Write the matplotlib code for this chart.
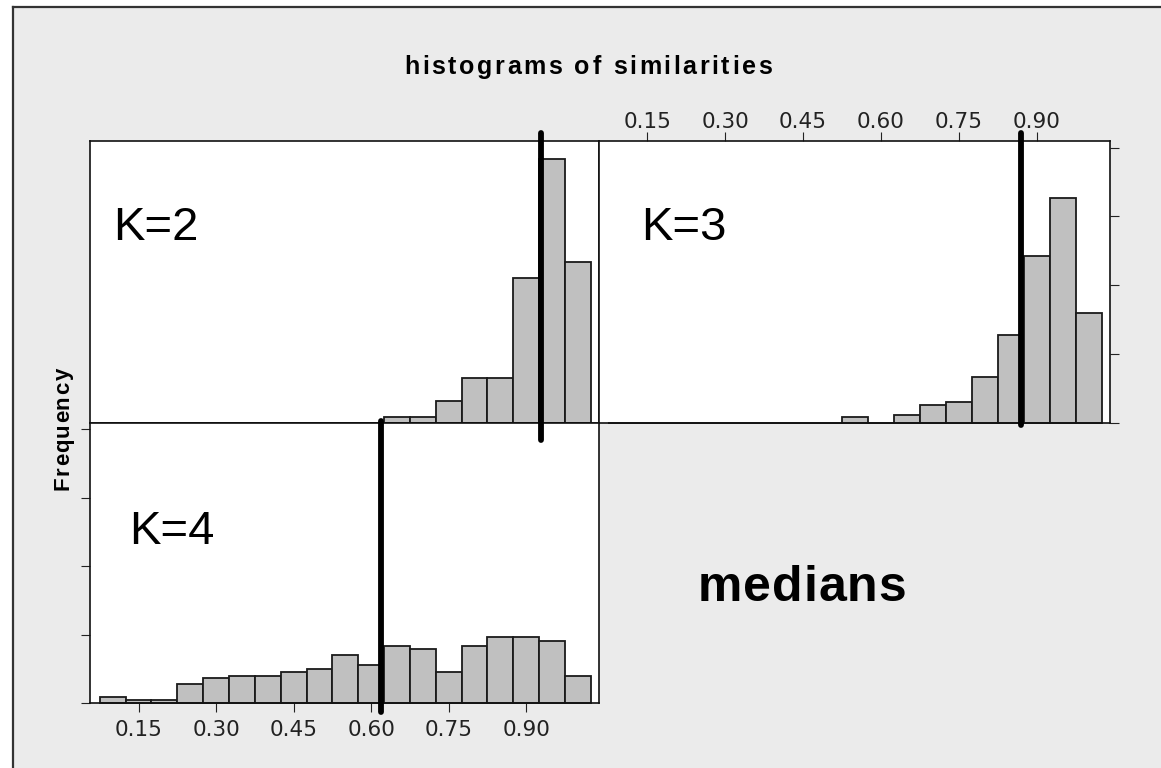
import matplotlib
matplotlib.use("Agg")
import matplotlib.pyplot as plt
import matplotlib.transforms as mtransforms
from matplotlib.lines import Line2D
from matplotlib.patches import Rectangle
from matplotlib.font_manager import FontProperties, findfont, get_font

# ---------------- data ----------------
bin_start = 0.075
bin_width = 0.05
n_bins = 19
bin_lefts = [round(bin_start + i * bin_width, 3) for i in range(n_bins)]

# percent of total per bin (bins 0.075 .. 1.025)
pct_k2 = [0, 0, 0, 0, 0, 0, 0, 0, 0, 0, 0,
          0.8, 0.8, 3.1, 6.5, 6.5, 21.0, 38.3, 23.3]
pct_k3 = [0, 0, 0, 0, 0, 0, 0, 0, 0,
          0.8, 0, 1.1, 2.6, 3.0, 6.6, 12.8, 24.3, 32.7, 16.0]
pct_k4 = [0.9, 0.4, 0.4, 2.8, 3.6, 4.0, 4.0, 4.5, 5.0, 7.0, 5.6,
          8.4, 7.9, 4.5, 8.4, 9.6, 9.6, 9.1, 4.0]

medians = {"K=2": 0.928, "K=3": 0.870, "K=4": 0.619}
x_ticks = [0.15, 0.30, 0.45, 0.60, 0.75, 0.90]
x_tick_labels = ["0.15", "0.30", "0.45", "0.60", "0.75", "0.90"]
y_ticks = [0, 10, 20, 30, 40]

title = "histograms of similarities"
ylabel = "Frequency"
note = "medians"

# ---------------- style ----------------
W, H = 1161, 768
DPI = 100
BG = "#ebebeb"
BAR = "#c0c0c0"
EDGE = "#1a1a1a"

fig = plt.figure(figsize=(W / DPI, H / DPI), dpi=DPI, facecolor="white")


def px(x, y, w, h):
    """pixel box (from top-left) -> figure fraction rect"""
    return [x / W, 1 - (y + h) / H, w / W, h / H]


def tracked_text(xc, yc, s, track, size, weight="bold", family="Liberation Sans",
                 rotation=0):
    """Draw letter-spaced text centred on (xc, yc) pixel coords (yc = baseline
    for horizontal text, xc = baseline for rotated text)."""
    prop = FontProperties(family=family, weight=weight, size=size)
    font = get_font(findfont(prop))
    font.set_size(size, DPI)
    adv = [font.load_char(ord(c)).linearHoriAdvance / 65536.0 for c in s]
    total = sum(adv) + track * (len(s) - 1)
    pos = -total / 2.0
    for c, a in zip(s, adv):
        if rotation == 0:
            x, y = xc + pos, yc
        else:
            x, y = xc, yc - pos
        fig.text(x / W, 1 - y / H, c, fontproperties=prop, rotation=rotation,
                 rotation_mode="anchor", ha="left", va="baseline", color="black")
        pos += a + track


# gray page with left/top border
fig.add_artist(Rectangle((12.7 / W, 0), 1, 1 - 6.7 / H, transform=fig.transFigure,
                         facecolor=BG, edgecolor="none", zorder=-10))
fig.add_artist(Line2D([12.7 / W, 12.7 / W], [0, 1 - 6.7 / H], transform=fig.transFigure,
                      color="#333333", lw=1.6, zorder=-9))
fig.add_artist(Line2D([12.7 / W, 1], [1 - 6.7 / H, 1 - 6.7 / H], transform=fig.transFigure,
                      color="#333333", lw=1.6, zorder=-9))

ax2 = fig.add_axes(px(90, 141, 508.5, 281.6))
ax3 = fig.add_axes(px(598.5, 141, 511, 281.6))
ax4 = fig.add_axes(px(90, 422.6, 508.5, 280.4))

ymax = 1.07 * max(pct_k2 + pct_k3 + pct_k4)
xlim = (0.056, 1.040)

for ax, vals in ((ax2, pct_k2), (ax3, pct_k3), (ax4, pct_k4)):
    ax.set_facecolor("white")
    ax.bar(bin_lefts, vals, width=bin_width, align="edge", color=BAR,
           edgecolor=EDGE, linewidth=1.3, clip_on=False, zorder=2)
    ax.set_xlim(*xlim)
    ax.set_ylim(0, ymax)
    for s in ax.spines.values():
        s.set_linewidth(1.2)
        s.set_color("#111111")
    ax.tick_params(length=6.2, width=0.8, color="#222222",
                   labelsize=15.5, labelcolor="#222222")

# K=2: no ticks
ax2.set_xticks([])
ax2.set_yticks([])

# K=3: top x ticks with labels, right y ticks w/o labels
ax3.set_xticks(x_ticks)
ax3.set_xticklabels(x_tick_labels)
ax3.xaxis.tick_top()
ax3.tick_params(axis="x", pad=0.5)
ax3.set_yticks(y_ticks)
ax3.yaxis.tick_right()
ax3.tick_params(axis="y", labelright=False)

# K=4: bottom x ticks with labels, left y ticks w/o labels
ax4.set_xticks(x_ticks)
ax4.set_xticklabels(x_tick_labels)
ax4.tick_params(axis="x", pad=6)
ax4.set_yticks(y_ticks)
ax4.tick_params(axis="y", labelleft=False)

# panel labels
kfont = dict(fontsize=34, family="Liberation Sans", color="black", va="baseline", ha="left")
ax2.text((113.5 - 90) / 508.5, 1 - (240.5 - 141) / 281.6, "K=2", transform=ax2.transAxes, **kfont)
ax3.text((641.5 - 598.5) / 511, 1 - (240.5 - 141) / 281.6, "K=3", transform=ax3.transAxes, **kfont)
ax4.text((129.5 - 90) / 508.5, 1 - (543.5 - 422.6) / 280.4, "K=4", transform=ax4.transAxes, **kfont)

# median lines (extend beyond the panels)
line_ext = {"K=2": (-0.062, 1.027), "K=3": (-0.0085, 1.027), "K=4": (-0.032, 1.007)}
for key, ax in (("K=2", ax2), ("K=3", ax3), ("K=4", ax4)):
    tr = mtransforms.blended_transform_factory(ax.transData, ax.transAxes)
    y0, y1 = line_ext[key]
    fig.add_artist(Line2D([medians[key], medians[key]], [y0, y1], transform=tr,
                          color="black", lw=4.2, solid_capstyle="round", zorder=10))

tracked_text(588, 74, title, 2.6, 18)
tracked_text(69, 429, ylabel, 1.2, 16, rotation=90)
tracked_text(802, 601, note, 1.0, 36)

fig.savefig("out.png", dpi=DPI, facecolor="white")
